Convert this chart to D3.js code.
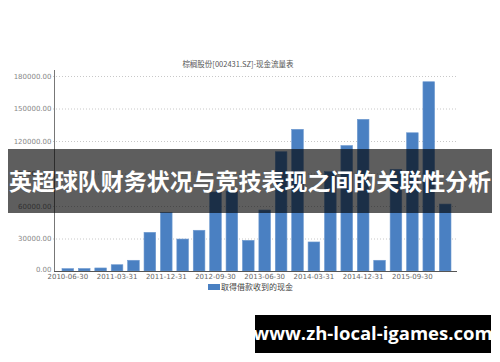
<!DOCTYPE html>
<html>
<head>
	<meta charset="utf-8">
	<title></title>
	<script src="https://d3js.org/d3.v7.min.js" charset="utf-8"></script>
	<style type="text/css">
		body {
			margin: 0;
			background: #fff;
		}
		svg text {
			font-family: 'Noto Sans CJK SC', 'DejaVu Sans', sans-serif;
		}
	</style>
</head>
<body>
	<script type="text/javascript">
		// quarters, 2010-06-30 .. 2016-03-31
		var quarters = ["2010-06-30","2010-09-30","2010-12-31","2011-03-31","2011-06-30","2011-09-30",
			"2011-12-31","2012-03-31","2012-06-30","2012-09-30","2012-12-31","2013-03-31",
			"2013-06-30","2013-09-30","2013-12-31","2014-03-31","2014-06-30","2014-09-30",
			"2014-12-31","2015-03-31","2015-06-30","2015-09-30","2015-12-31","2016-03-31"];
		// 取得借款收到的现金
		var cash = [2200, 2300, 2800, 5800, 9900, 35700, 54200, 29500, 37600, 72900, 73800, 28300,
			56300, 110100, 130800, 26800, 91700, 115800, 140000, 9900, 93900, 127600, 174700, 61800];
		var yTicks = [0, 30000, 60000, 90000, 120000, 150000, 180000];
		var chartTitle = "棕榈股份[002431.SZ]-现金流量表";
		var seriesName = "取得借款收到的现金";
		var bannerText = "英超球队财务状况与竞技表现之间的关联性分析";
		var siteText = "www.zh-local-igames.com";

		var w = 500, h = 362;
		var svg = d3.select("body").append("svg")
			.attr("width", w)
			.attr("height", h);

		var x = d3.scaleBand()
			.domain(quarters)
			.range([62, 451])
			.paddingInner(0.29)
			.paddingOuter(0);

		var y = d3.scaleLinear()
			.domain([0, 180000])
			.range([271, 76]);

		// grid
		svg.append("g")
			.selectAll("line")
			.data(yTicks.slice(1))
			.enter()
			.append("line")
			.attr("x1", 50)
			.attr("x2", 457)
			.attr("y1", function(d){ return y(d) + 0.5; })
			.attr("y2", function(d){ return y(d) + 0.5; })
			.attr("stroke", "#c8c8c8")
			.attr("stroke-dasharray", "1,2");

		// y axis
		var yAxis = svg.append("g")
			.attr("transform", "translate(54.5,0)")
			.call(d3.axisLeft(y).tickValues(yTicks).tickSize(0).tickPadding(3)
				.tickFormat(function(d){ return d3.format(".2f")(d); }));
		yAxis.select(".domain").attr("stroke", "#777").attr("d", "M0,70V271");
		yAxis.selectAll("text").attr("fill", "#888").style("font-size", "7px").style("font-family", "'DejaVu Sans', sans-serif");
		// lift 0.00 a little so it clears the first date label
		yAxis.selectAll(".tick").filter(function(d){ return d == 0; }).select("text").attr("dy", "0.1em");

		// bars
		svg.append("g")
			.selectAll("rect")
			.data(cash)
			.enter()
			.append("rect")
			.attr("x", function(d, i){ return x(quarters[i]); })
			.attr("y", function(d){ return y(d); })
			.attr("width", x.bandwidth())
			.attr("height", function(d){ return y(0) - y(d); })
			.attr("fill", "#4a80c2")
			.attr("stroke", "#6f9ad0")
			.attr("stroke-width", 0.6);

		// x axis
		var xAxis = svg.append("g")
			.attr("transform", "translate(0,271.5)")
			.call(d3.axisBottom(x)
				.tickValues(quarters.filter(function(d, i){ return i % 3 == 0; }))
				.tickSize(0).tickPadding(2.5));
		xAxis.select(".domain").attr("stroke", "#555").attr("d", "M54,0H457");
		xAxis.selectAll("text").attr("fill", "#666").style("font-size", "7px").style("font-family", "'DejaVu Sans', sans-serif");

		// title
		svg.append("text")
			.text(chartTitle)
			.attr("x", 238)
			.attr("y", 67)
			.attr("text-anchor", "middle")
			.attr("fill", "#555")
			.style("font-size", "7.5px");

		// legend
		svg.append("rect")
			.attr("x", 208)
			.attr("y", 284)
			.attr("width", 12)
			.attr("height", 6)
			.attr("fill", "#4a80c2");
		svg.append("text")
			.text(seriesName)
			.attr("x", 221)
			.attr("y", 290)
			.attr("fill", "#444")
			.style("font-size", "8px");

		// banner
		svg.append("rect")
			.attr("x", 8)
			.attr("y", 149)
			.attr("width", 484)
			.attr("height", 64)
			.attr("fill", "rgba(0,0,0,0.63)");
		svg.append("text")
			.text(bannerText)
			.attr("x", 250)
			.attr("y", 190)
			.attr("text-anchor", "middle")
			.attr("fill", "#fff")
			.style("font-size", "23px")
			.style("font-weight", "bold")
			.attr("textLength", 482)
			.attr("lengthAdjust", "spacingAndGlyphs");

		// site box
		svg.append("rect")
			.attr("x", 255)
			.attr("y", 315)
			.attr("width", 236)
			.attr("height", 38)
			.attr("fill", "#000");
		svg.append("text")
			.text(siteText)
			.attr("x", 373)
			.attr("y", 340)
			.attr("text-anchor", "middle")
			.attr("fill", "#fff")
			.style("font-size", "18.5px")
			.style("font-weight", "bold")
			.style("font-family", "'Open Sans', 'DejaVu Sans', sans-serif");
	</script>
</body>
</html>
